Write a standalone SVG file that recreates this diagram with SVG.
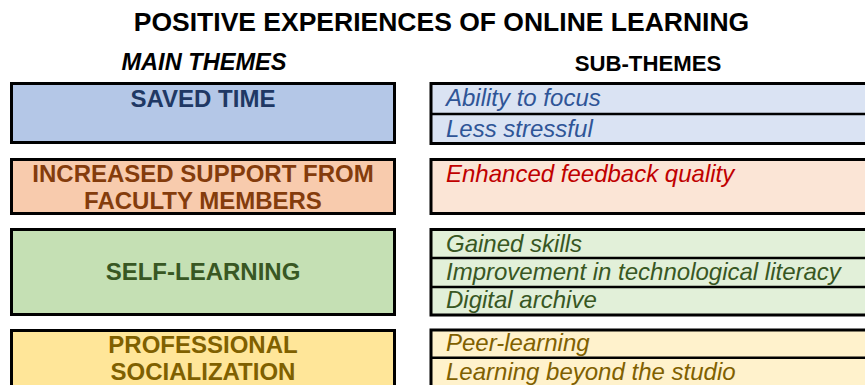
<svg xmlns="http://www.w3.org/2000/svg" width="865" height="385" viewBox="0 0 865 385">
<style>
text { font-family: "Liberation Sans", Arial, sans-serif; }
.title { font-size: 26.5px; font-weight: bold; fill: #000; }
.head { font-weight: bold; fill: #000; }
.main { font-size: 24px; font-weight: bold; text-anchor: middle; }
.sub { font-size: 24px; font-style: italic; }
.box { stroke: #000; stroke-width: 3; }
.div { stroke: #000; stroke-width: 2.5; }
</style>
<rect width="865" height="385" fill="#fff"/>
<text class="title" x="441.5" y="30.7" text-anchor="middle">POSITIVE EXPERIENCES OF ONLINE LEARNING</text>
<text class="head" x="204" y="70" font-size="23.6" font-style="italic" text-anchor="middle">MAIN THEMES</text>
<text class="head" x="648" y="71" font-size="22.2" text-anchor="middle">SUB-THEMES</text>

<g id="saved-time">
<rect class="box" x="11.5" y="83.5" width="383" height="59" fill="#B4C7E7"/>
<text class="main" x="203" y="106.5" fill="#203864">SAVED TIME</text>
</g>
<g id="saved-time-sub">
<rect class="box" x="431" y="83.5" width="440" height="60" fill="#DAE3F3"/>
<line class="div" x1="431" y1="114" x2="871" y2="114"/>
<text class="sub" x="446" y="106" fill="#2F5597">Ability to focus</text>
<text class="sub" x="446" y="136.7" fill="#2F5597">Less stressful</text>
</g>

<g id="support">
<rect class="box" x="11.5" y="159.5" width="383" height="54" fill="#F8CBAD"/>
<text class="main" x="203" y="182.3" fill="#843C0C">INCREASED SUPPORT FROM</text>
<text class="main" x="203" y="208.8" fill="#843C0C">FACULTY MEMBERS</text>
</g>
<g id="support-sub">
<rect class="box" x="431" y="159.5" width="440" height="54" fill="#FBE5D6"/>
<text class="sub" x="446" y="182.3" fill="#C00000">Enhanced feedback quality</text>
</g>

<g id="self-learning">
<rect class="box" x="11.5" y="229.5" width="383" height="85" fill="#C5E0B4"/>
<text class="main" x="203" y="280" fill="#385723">SELF-LEARNING</text>
</g>
<g id="self-learning-sub">
<rect class="box" x="431" y="229.5" width="440" height="85.5" fill="#E2F0D9"/>
<line class="div" x1="431" y1="258" x2="871" y2="258"/>
<line class="div" x1="431" y1="287" x2="871" y2="287"/>
<text class="sub" x="446" y="251.7" fill="#385723">Gained skills</text>
<text class="sub" x="446" y="280" fill="#385723">Improvement in technological literacy</text>
<text class="sub" x="446" y="308.3" fill="#385723">Digital archive</text>
</g>

<g id="socialization">
<rect class="box" x="11.5" y="330.5" width="383" height="70" fill="#FFE699"/>
<text class="main" x="203" y="352.7" fill="#7F6000">PROFESSIONAL</text>
<text class="main" x="203" y="380" fill="#7F6000">SOCIALIZATION</text>
</g>
<g id="socialization-sub">
<rect class="box" x="431" y="330" width="440" height="70" fill="#FFF2CC"/>
<line class="div" x1="431" y1="357.7" x2="871" y2="357.7"/>
<text class="sub" x="446" y="351" fill="#7F6000">Peer-learning</text>
<text class="sub" x="446" y="380" fill="#7F6000">Learning beyond the studio</text>
</g>
</svg>
